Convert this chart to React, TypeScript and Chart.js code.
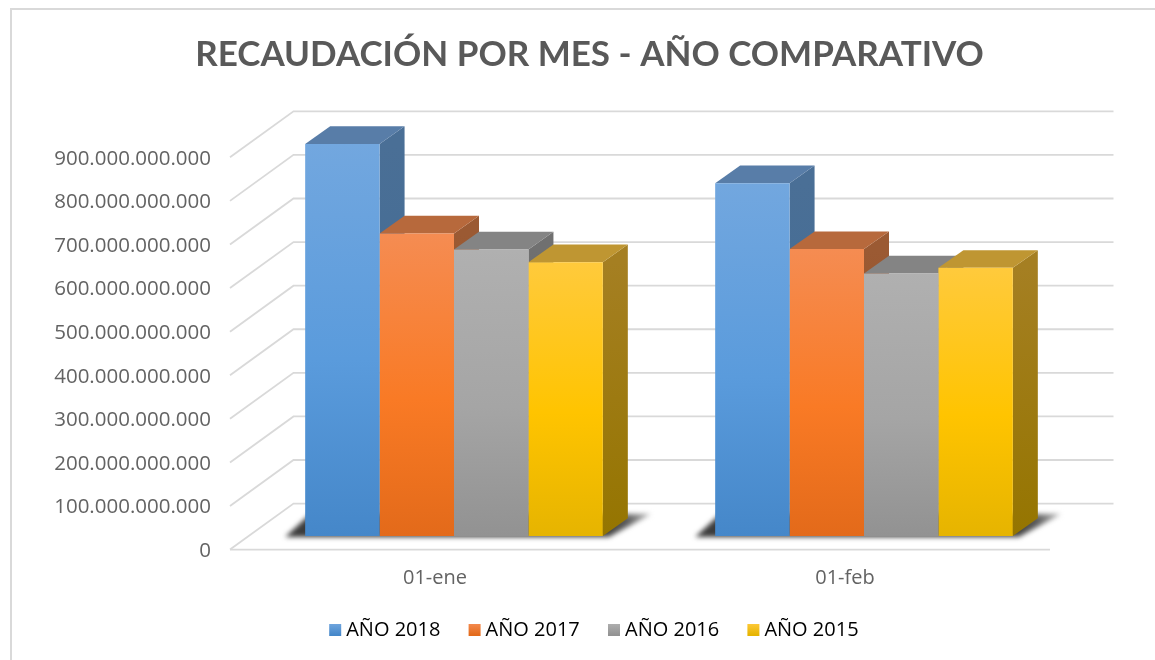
import React, { useEffect, useRef } from "react";
import { Chart, registerables } from "chart.js";

Chart.register(...registerables);

const categories = ["01-ene", "01-feb"];
const seriesNames = ["AÑO 2018", "AÑO 2017", "AÑO 2016", "AÑO 2015"];
const ano2018 = [899e9, 809e9];
const ano2017 = [694e9, 658e9];
const ano2016 = [657e9, 602e9];
const ano2015 = [628e9, 615e9];
const seriesValues = [ano2018, ano2017, ano2016, ano2015];

const frontStops = [
  ["#72a7df", "#5a9bdc", "#4587c9"],
  ["#f58c52", "#f97a25", "#e36a1a"],
  ["#b0b0b0", "#a5a5a5", "#929292"],
  ["#ffca3c", "#ffc400", "#e6b400"],
];
const topColors = ["#587da8", "#b7693c", "#848484", "#bf9632"];
const sideColors = [
  ["#4a6f96", "#3f6a93"],
  ["#9b5a33", "#8f4f24"],
  ["#707070", "#646464"],
  ["#a57f22", "#957500"],
];

const DEPTH_X = 63.5;
const DEPTH_Y = 46;
const BAR_OFFSET_X = 19;
const BAR_OFFSET_Y = 13.7;
const BAR_DEPTH_X = 25;
const BAR_DEPTH_Y = 17.7;

const formatTick = (v: number) => String(v).replace(/\B(?=(\d{3})+(?!\d))/g, ".");

const depthPlugin = {
  id: "depth",
  afterLayout(chart: any) {
    const title = chart.titleBlock;
    title.left = 0;
    title.right = 1179;
    const legend = chart.legend;
    legend.left = 37.8;
    legend.right = 1155;
    legend.top = 586.8;
    legend.bottom = legend.top + legend.height;
    legend.adjustHitBoxes();
  },
  beforeDraw(chart: any) {
    const { ctx } = chart;
    ctx.save();
    ctx.fillStyle = "#ffffff";
    ctx.fillRect(0, 0, chart.width, chart.height);
    ctx.strokeStyle = "#d9d9d9";
    ctx.lineWidth = 2;
    ctx.beginPath();
    ctx.moveTo(11, 660);
    ctx.lineTo(11, 9);
    ctx.lineTo(1155, 9);
    ctx.stroke();
    ctx.restore();
  },
  beforeDatasetsDraw(chart: any) {
    const { ctx, chartArea, scales } = chart;
    const y = scales.y;
    ctx.save();
    ctx.strokeStyle = "#d9d9d9";
    ctx.lineWidth = 1.8;
    y.ticks.forEach((t: any) => {
      const py = y.getPixelForValue(t.value);
      ctx.beginPath();
      ctx.moveTo(chartArea.left, py);
      ctx.lineTo(chartArea.left + DEPTH_X, py - DEPTH_Y);
      ctx.lineTo(chartArea.right + DEPTH_X, py - DEPTH_Y);
      ctx.stroke();
    });
    const base = y.getPixelForValue(0);
    ctx.beginPath();
    ctx.moveTo(chartArea.left, base);
    ctx.lineTo(chartArea.right, base);
    ctx.stroke();

    // floor shadow of each group
    const first = chart.getDatasetMeta(0).data;
    const last = chart.getDatasetMeta(chart.data.datasets.length - 1).data;
    first.forEach((bar: any, i: number) => {
      const l = bar.x - bar.width / 2 + BAR_OFFSET_X;
      const r = last[i].x + last[i].width / 2 + BAR_OFFSET_X;
      const b = base - BAR_OFFSET_Y + 1;
      const g = ctx.createLinearGradient(r, b, r + 50, b - 24);
      g.addColorStop(0, "#3c3c3c");
      g.addColorStop(0.5, "#5a5a5a");
      g.addColorStop(1, "#c0c0c0");
      ctx.save();
      ctx.filter = "blur(2.5px)";
      ctx.fillStyle = g;
      ctx.beginPath();
      ctx.moveTo(l - 20, b);
      ctx.lineTo(r + 6, b);
      ctx.lineTo(r + 48, b - 23);
      ctx.lineTo(l + 5, b - 23);
      ctx.closePath();
      ctx.fill();
      ctx.restore();
    });

    // top and side faces, left to right
    first.forEach((_: any, i: number) => {
      chart.data.datasets.forEach((_d: any, di: number) => {
        const bar = chart.getDatasetMeta(di).data[i];
        const l = bar.x - bar.width / 2 + BAR_OFFSET_X;
        const r = bar.x + bar.width / 2 + BAR_OFFSET_X;
        const t = bar.y - BAR_OFFSET_Y;
        const b = bar.base - BAR_OFFSET_Y;
        const side = ctx.createLinearGradient(0, t, 0, b);
        side.addColorStop(0, sideColors[di][0]);
        side.addColorStop(1, sideColors[di][1]);
        ctx.fillStyle = side;
        ctx.beginPath();
        ctx.moveTo(r, t);
        ctx.lineTo(r + BAR_DEPTH_X, t - BAR_DEPTH_Y);
        ctx.lineTo(r + BAR_DEPTH_X, b - BAR_DEPTH_Y);
        ctx.lineTo(r, b);
        ctx.closePath();
        ctx.fill();
        ctx.fillStyle = topColors[di];
        ctx.beginPath();
        ctx.moveTo(l, t);
        ctx.lineTo(l + BAR_DEPTH_X, t - BAR_DEPTH_Y);
        ctx.lineTo(r + BAR_DEPTH_X, t - BAR_DEPTH_Y);
        ctx.lineTo(r, t);
        ctx.closePath();
        ctx.fill();
      });
    });
    ctx.restore();

    // front faces are the library's own bars, moved onto their depth plane
    ctx.save();
    ctx.translate(BAR_OFFSET_X, -BAR_OFFSET_Y);
  },
  afterDatasetsDraw(chart: any) {
    chart.ctx.restore();
  },
};

export default function App() {
  const ref = useRef<HTMLCanvasElement | null>(null);
  useEffect(() => {
    document.body.style.margin = "0";
    const canvas = ref.current!;
    const frontFill = (di: number) => (c: any) => {
      const chart = c.chart;
      const y = chart.scales.y;
      const value = c.raw ?? 0;
      const g = chart.ctx.createLinearGradient(0, y.getPixelForValue(value), 0, y.getPixelForValue(0));
      g.addColorStop(0, frontStops[di][0]);
      g.addColorStop(0.55, frontStops[di][1]);
      g.addColorStop(1, frontStops[di][2]);
      return g;
    };
    const chart = new Chart(canvas, {
      type: "bar",
      data: {
        labels: categories,
        datasets: seriesNames.map((name, di) => ({
          label: name,
          data: seriesValues[di],
          backgroundColor: frontFill(di),
          borderWidth: 0,
          categoryPercentage: 0.726,
          barPercentage: 1,
          clip: false,
        })),
      },
      options: {
        responsive: false,
        animation: false,
        layout: { padding: { left: 0, right: 105, top: 0, bottom: 0 } },
        plugins: {
          tooltip: { enabled: false },
          title: {
            display: true,
            text: "RECAUDACIÓN POR MES - AÑO COMPARATIVO",
            color: "#595959",
            font: { family: "Lato", size: 35, weight: "bold", lineHeight: 1.2 },
            padding: { top: 33.5, bottom: 81.8 },
          },
          legend: {
            display: true,
            position: "bottom",
            labels: {
              boxWidth: 2,
              boxHeight: 12,
              usePointStyle: true,
              padding: 33.2,
              color: "#636363",
              font: { family: "Open Sans", size: 20 },
              generateLabels(chart: any) {
                return seriesNames.map((text, di) => {
                  const g = chart.ctx.createLinearGradient(0, 623, 0, 635);
                  g.addColorStop(0, frontStops[di][0]);
                  g.addColorStop(1, frontStops[di][2]);
                  return {
                    text,
                    fillStyle: g,
                    strokeStyle: "rgba(0,0,0,0)",
                    lineWidth: 0,
                    pointStyle: "rect",
                    datasetIndex: di,
                    hidden: false,
                  };
                });
              },
            },
          },
        },
        scales: {
          x: {
            grid: { display: false, drawTicks: false },
            border: { display: false },
            ticks: { color: "#636363", font: { family: "Open Sans", size: 20 }, padding: 17, maxRotation: 0 },
            afterFit(scale: any) {
              scale.height = 47.2;
            },
          },
          y: {
            min: 0,
            max: 900e9,
            grid: { display: false, drawTicks: false },
            border: { display: false },
            ticks: {
              stepSize: 100e9,
              color: "#636363",
              font: { family: "Open Sans", size: 20.5 },
              padding: 19,
              labelOffset: 1.5,
              callback: (v: any) => formatTick(Number(v)),
            },
            afterFit(scale: any) {
              scale.width = 230;
            },
          },
        },
      },
      plugins: [depthPlugin],
    } as any);
    return () => chart.destroy();
  }, []);
  return <canvas ref={ref} width={1155} height={660} style={{ display: "block" }} />;
}
